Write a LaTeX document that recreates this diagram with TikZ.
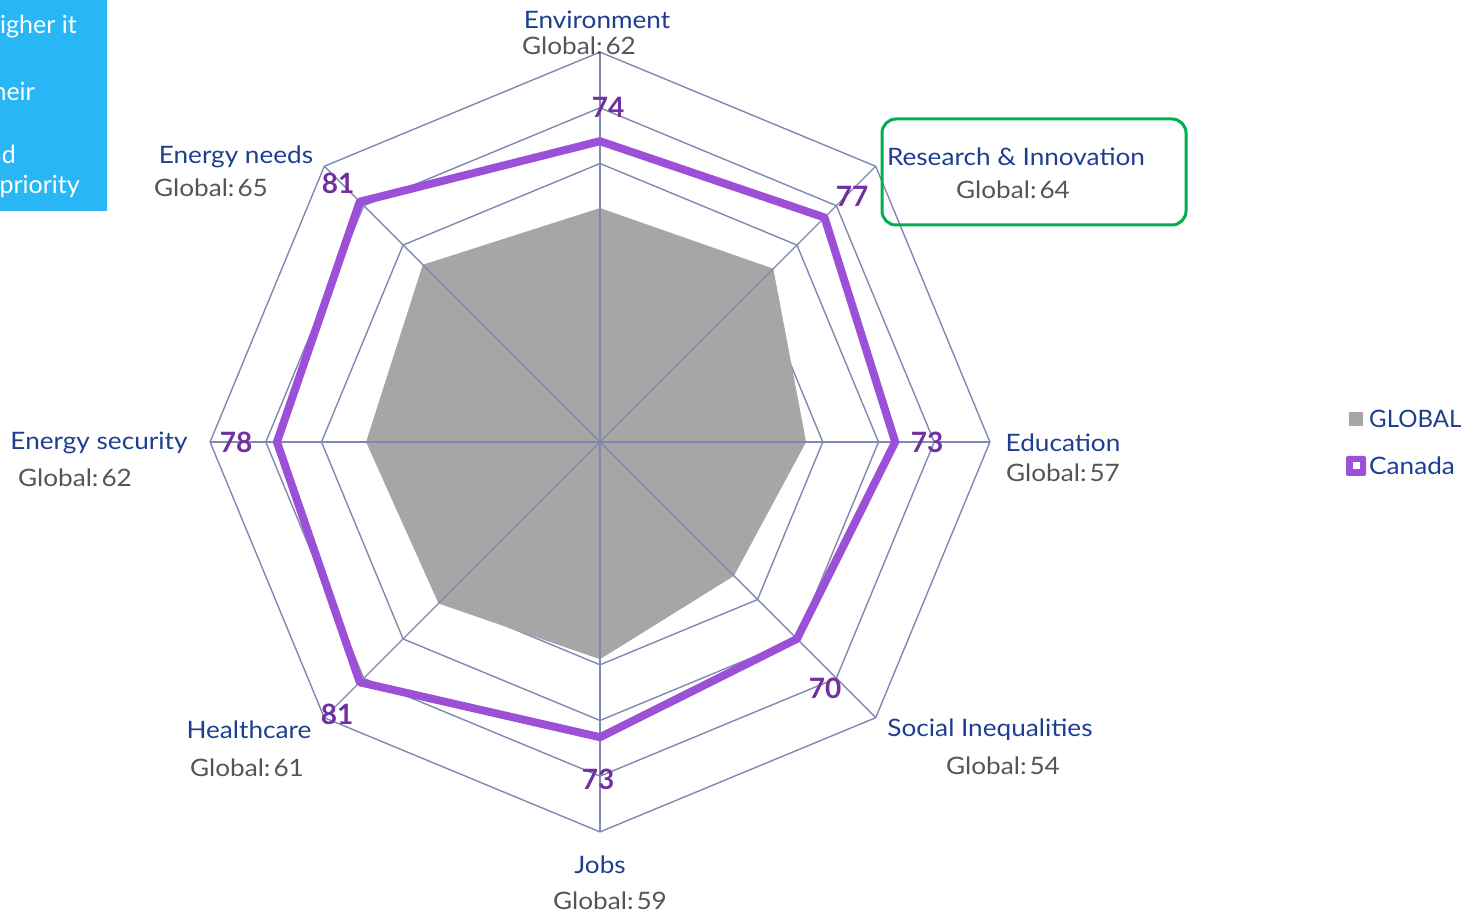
\documentclass[tikz,border=0pt]{standalone}
\usepackage{fontspec}
\setmainfont{Lato}
\newfontfamily\lblfont{Lato}[FakeStretch=1.09]
\definecolor{gridc}{RGB}{128,136,178}
\definecolor{grayfill}{RGB}{166,166,166}
\definecolor{canline}{RGB}{155,80,215}
\definecolor{cannum}{RGB}{112,48,160}
\definecolor{navy}{RGB}{30,62,145}
\definecolor{gtext}{RGB}{84,84,92}
\definecolor{boxblue}{RGB}{41,182,244}
\definecolor{hlgreen}{RGB}{0,176,80}
\tikzset{
  gridline/.style={draw=gridc, line width=1.4pt, line join=miter},
  axisname/.style={font=\lblfont\fontsize{24}{28}\selectfont, text=navy, inner sep=0pt},
  globaltxt/.style={font=\lblfont\fontsize{24}{28}\selectfont, text=gtext, inner sep=0pt},
  valnum/.style={font=\bfseries\fontsize{28}{32}\selectfont, text=cannum, inner sep=0pt},
  boxtxt/.style={font=\fontsize{25}{29}\selectfont, text=white, inner sep=0pt},
  legtxt/.style={font=\fontsize{24}{28}\selectfont, text=navy, inner sep=0pt, anchor=west}
}
\begin{document}
\begin{tikzpicture}[x=1pt,y=1pt]
\useasboundingbox (0,0) rectangle (1479,913);
% blue side box
\fill[boxblue] (0,702) rectangle (107,913);
\begin{scope}
  \clip (0,702) rectangle (107,913);
  \node[boxtxt, anchor=east] (b1) at (77,886) {higher it};
  \node[boxtxt, anchor=east] (b2) at (35,822) {their};
  \node[boxtxt, anchor=east] (b3) at (16,759) {and};
  \node[boxtxt, anchor=east] (b4) at (80,726) {priority};
\end{scope}
% radar chart
\begin{scope}[shift={(600,471)}]
  \coordinate (c) at (0,0);
  \foreach \v in {60,70,80,90}{
    \pgfmathsetmacro{\r}{(\v-20)*5.57}
    \draw[gridline] (0:\r) -- (45:\r) -- (90:\r) -- (135:\r) -- (180:\r) -- (225:\r) -- (270:\r) -- (315:\r) -- cycle;
  }
  \fill[grayfill] (90:{(62-20)*5.57}) -- (45:{(64-20)*5.57}) -- (0:{(57-20)*5.57}) -- (-45:{(54-20)*5.57}) -- (-90:{(59-20)*5.57}) -- (-135:{(61-20)*5.57}) -- (180:{(62-20)*5.57}) -- (135:{(65-20)*5.57}) -- cycle;
  \foreach \a in {0,45,...,315}{
    \coordinate (ax\a) at (\a:{(90-20)*5.57});
    \draw[gridline] (c) -- (ax\a);
  }
  \draw[canline, line width=8pt, line join=round] (90:{(74-20)*5.57}) -- (45:{(77-20)*5.57}) -- (0:{(73-20)*5.57}) -- (-45:{(70-20)*5.57}) -- (-90:{(73-20)*5.57}) -- (-135:{(81-20)*5.57}) -- (180:{(78-20)*5.57}) -- (135:{(81-20)*5.57}) -- cycle;
\end{scope}
% value labels
\node[valnum] (n1) at (608,806) {74};
\node[valnum] (n2) at (852,717) {77};
\node[valnum] (n3) at (927,471) {73};
\node[valnum] (n4) at (825,225) {70};
\node[valnum] (n5) at (598,134) {73};
\node[valnum] (n6) at (337,199) {81};
\node[valnum] (n7) at (236,471) {78};
\node[valnum] (n8) at (338,730) {81};
% axis labels
\node[axisname] (l1) at (597,893) {Environment};
\node[globaltxt] (g1) at (579,867) {Global:\hspace{3pt}62};
\node[axisname] (l2) at (236,756) {Energy needs};
\node[globaltxt] (g2) at (211,725) {Global:\hspace{3pt}65};
\node[axisname] (l3) at (1016,756) {Research \& Innovation};
\node[globaltxt] (g3) at (1013,723) {Global:\hspace{3pt}64};
\node[axisname] (l4) at (1063,470) {Education};
\node[globaltxt] (g4) at (1063,440) {Global:\hspace{3pt}57};
\node[axisname] (l5) at (990,183) {Social Inequalities};
\node[globaltxt] (g5) at (1003,147) {Global:\hspace{3pt}54};
\node[axisname] (l6) at (600,48) {Jobs};
\node[globaltxt] (g6) at (610,12) {Global:\hspace{3pt}59};
\node[axisname] (l7) at (249,183) {Healthcare};
\node[globaltxt] (g7) at (247,145) {Global:\hspace{3pt}61};
\node[axisname] (l8) at (99,470) {Energy security};
\node[globaltxt] (g8) at (75,435) {Global:\hspace{3pt}62};
% highlight box
\draw[hlgreen, line width=3pt, rounded corners=14pt] (882,688) rectangle (1186,794);
% legend
\fill[grayfill] (1349,487) rectangle (1363,501);
\node[legtxt] (lg1) at (1369,494) {GLOBAL};
\fill[canline, rounded corners=2pt] (1346,437) rectangle (1366,457);
\fill[white] (1352.5,443.5) rectangle (1359.5,450.5);
\node[legtxt, font=\lblfont\fontsize{24}{28}\selectfont] (lg2) at (1369,447) {Canada};
\end{tikzpicture}
\end{document}
